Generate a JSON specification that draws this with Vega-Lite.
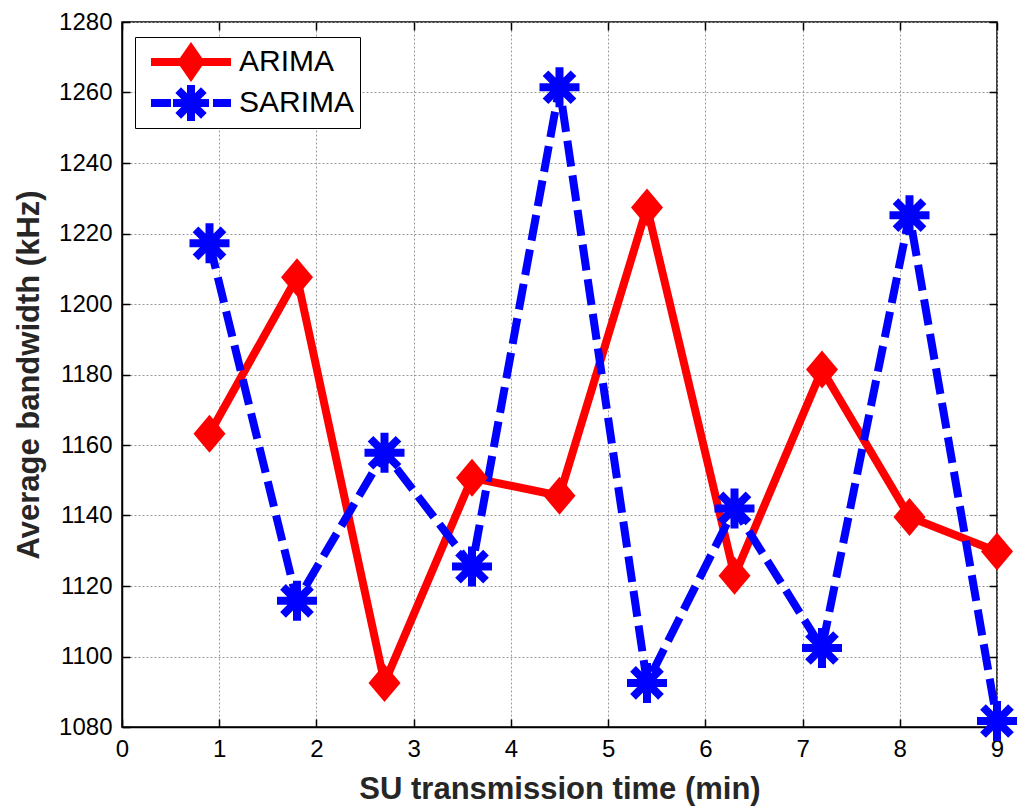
{
  "$schema": "https://vega.github.io/schema/vega-lite/v6.json",
  "width": 875,
  "height": 705,
  "autosize": {"type": "none"},
  "padding": {"left": 122, "top": 22, "right": 24, "bottom": 82},
  "background": "white",
  "config": {
    "font": "Liberation Sans",
    "view": {"stroke": "black", "strokeWidth": 1.5},
    "axis": {
      "domainColor": "black",
      "domainWidth": 1.5,
      "tickColor": "black",
      "tickWidth": 1.5,
      "tickSize": -8,
      "labelFont": "Liberation Sans",
      "labelFontSize": 24,
      "labelColor": "black",
      "titleFont": "Liberation Sans",
      "titleFontWeight": "bold",
      "titleColor": "#262626",
      "gridColor": "#9a9a9a",
      "gridDash": [2, 2],
      "gridWidth": 1
    },
    "legend": {
      "title": null,
      "orient": "none",
      "legendX": 13,
      "legendY": 15,
      "strokeColor": "black",
      "fillColor": "white",
      "padding": 5,
      "labelFontSize": 30,
      "labelFont": "Liberation Sans",
      "labelColor": "black",
      "symbolSize": 6400,
      "symbolStrokeWidth": 8,
      "symbolOffset": 7,
      "labelOffset": 4,
      "clipHeight": 40,
      "rowPadding": 1
    }
  },
  "data": {
    "values": [
      {"t": 0.9, "value": 1163.2, "series": "ARIMA"},
      {"t": 1.8, "value": 1207.6, "series": "ARIMA"},
      {"t": 2.7, "value": 1092.5, "series": "ARIMA"},
      {"t": 3.6, "value": 1150.7, "series": "ARIMA"},
      {"t": 4.5, "value": 1145.6, "series": "ARIMA"},
      {"t": 5.4, "value": 1227.4, "series": "ARIMA"},
      {"t": 6.3, "value": 1122.9, "series": "ARIMA"},
      {"t": 7.2, "value": 1181.4, "series": "ARIMA"},
      {"t": 8.1, "value": 1139.6, "series": "ARIMA"},
      {"t": 9.0, "value": 1129.8, "series": "ARIMA"},
      {"t": 0.9, "value": 1217.2, "series": "SARIMA"},
      {"t": 1.8, "value": 1115.8, "series": "SARIMA"},
      {"t": 2.7, "value": 1157.8, "series": "SARIMA"},
      {"t": 3.6, "value": 1125.5, "series": "SARIMA"},
      {"t": 4.5, "value": 1261.5, "series": "SARIMA"},
      {"t": 5.4, "value": 1092.5, "series": "SARIMA"},
      {"t": 6.3, "value": 1142.0, "series": "SARIMA"},
      {"t": 7.2, "value": 1102.4, "series": "SARIMA"},
      {"t": 8.1, "value": 1225.2, "series": "SARIMA"},
      {"t": 9.0, "value": 1081.7, "series": "SARIMA"}
    ]
  },
  "layer": [
    {
      "transform": [{"filter": "datum.series === 'ARIMA'"}],
      "mark": {"type": "line", "strokeWidth": 8, "clip": false},
      "encoding": {
        "x": {
          "field": "t", "type": "quantitative",
          "scale": {"domain": [0, 9], "nice": false, "zero": false},
          "axis": {
            "title": "SU transmission time (min)",
            "titleFontSize": 31,
            "titlePadding": 13,
            "values": [0, 1, 2, 3, 4, 5, 6, 7, 8, 9],
            "format": "d",
            "labelPadding": 18,
            "grid": true,
            "labelFlush": false
          }
        },
        "y": {
          "field": "value", "type": "quantitative",
          "scale": {"domain": [1080, 1280], "nice": false, "zero": false},
          "axis": {
            "title": "Average bandwidth (kHz)",
            "titleFontSize": 31,
            "titlePadding": 13,
            "values": [1080, 1100, 1120, 1140, 1160, 1180, 1200, 1220, 1240, 1260, 1280],
            "format": "d",
            "labelPadding": 18,
            "grid": true,
            "labelFlush": false
          }
        },
        "color": {
          "field": "series", "type": "nominal",
          "scale": {"domain": ["ARIMA", "SARIMA"], "range": ["#ff0000", "#0000ff"]},
          "legend": {
            "encode": {
              "symbols": {
                "update": {
                  "shape": {"signal": "datum.value === 'ARIMA' ? 'M-1,0L1,0M0,-0.325L0.225,0L0,0.325L-0.225,0Z' : 'M-1,0L-0.5,0M-0.45,0L0.45,0M0,-0.45L0,0.45M-0.32,-0.32L0.32,0.32M-0.32,0.32L0.32,-0.32M0.55,0L1,0'"},
                  "fill": {"signal": "datum.value === 'ARIMA' ? '#ff0000' : 'transparent'"},
                  "stroke": {"signal": "datum.value === 'ARIMA' ? '#ff0000' : '#0000ff'"},
                  "strokeWidth": {"value": 8},
                  "opacity": {"value": 1}
                }
              }
            }
          }
        }
      }
    },
    {
      "transform": [{"filter": "datum.series === 'SARIMA'"}],
      "mark": {"type": "line", "strokeWidth": 8, "strokeDash": [26, 9], "clip": false},
      "encoding": {
        "x": {"field": "t", "type": "quantitative", "axis": null},
        "y": {"field": "value", "type": "quantitative", "axis": null},
        "color": {"field": "series", "type": "nominal", "legend": null}
      }
    },
    {
      "transform": [{"filter": "datum.series === 'ARIMA'"}],
      "mark": {"type": "point", "shape": "M0,-0.95L0.8,0L0,0.95L-0.8,0Z", "filled": true, "color": "#ff0000", "size": 1600, "opacity": 1, "clip": false},
      "encoding": {
        "x": {"field": "t", "type": "quantitative", "axis": {"orient": "top", "labels": false, "title": null, "grid": false, "domain": false, "values": [0, 1, 2, 3, 4, 5, 6, 7, 8, 9]}},
        "y": {"field": "value", "type": "quantitative", "axis": {"orient": "right", "labels": false, "title": null, "grid": false, "domain": false, "values": [1080, 1100, 1120, 1140, 1160, 1180, 1200, 1220, 1240, 1260, 1280]}}
      }
    },
    {
      "transform": [{"filter": "datum.series === 'SARIMA'"}],
      "mark": {"type": "point", "shape": "M-1,0L1,0M0,-1L0,1M-0.7,-0.7L0.7,0.7M-0.7,0.7L0.7,-0.7", "filled": false, "stroke": "#0000ff", "strokeWidth": 8, "size": 1600, "opacity": 1, "clip": false},
      "encoding": {
        "x": {"field": "t", "type": "quantitative", "axis": null},
        "y": {"field": "value", "type": "quantitative", "axis": null}
      }
    }
  ],
  "resolve": {"axis": {"x": "independent", "y": "independent"}}
}
